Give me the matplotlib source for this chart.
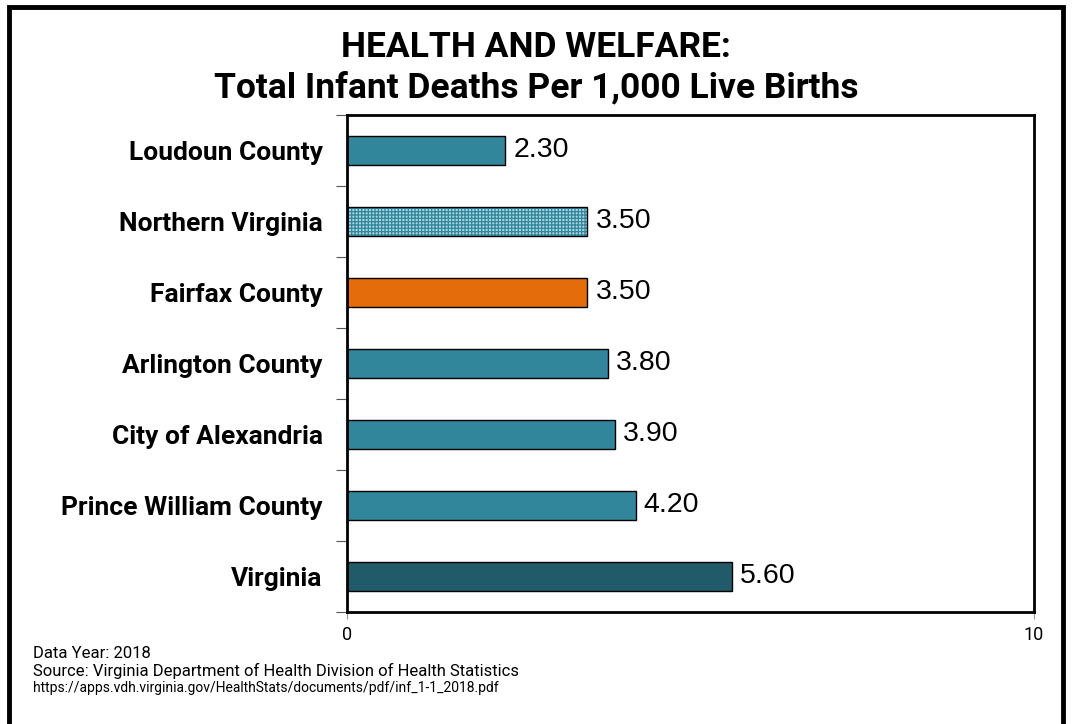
import matplotlib
matplotlib.use("Agg")
import matplotlib.pyplot as plt
from matplotlib.patches import Rectangle

categories = ["Loudoun County", "Northern Virginia", "Fairfax County", "Arlington County",
              "City of Alexandria", "Prince William County", "Virginia"]
values = [2.30, 3.50, 3.50, 3.80, 3.90, 4.20, 5.60]
colors = ["#31869B", "#A9D6E1", "#E46C0A", "#31869B", "#31869B", "#31869B", "#215A69"]
hatches = [None, "+++++", None, None, None, None, None]

plt.rcParams["hatch.linewidth"] = 0.9
fig = plt.figure(figsize=(10.72, 7.24), dpi=100)
# outer frame
fig.patches.append(Rectangle((0.0085, -0.05), 0.983, 1.04, transform=fig.transFigure,
                             fill=False, edgecolor="black", linewidth=3.5))

ax = fig.add_axes([0.3237, 0.1547, 0.6409, 0.6865])
ypos = list(range(len(categories)))
for y, v, c, h in zip(ypos, values, colors, hatches):
    if h:
        ax.barh(y, v, height=0.4, color=c, edgecolor="#31869B", hatch=h, linewidth=0)
        ax.barh(y, v, height=0.4, fill=False, edgecolor="black", linewidth=1)
    else:
        ax.barh(y, v, height=0.4, color=c, edgecolor="black", linewidth=1)
    ax.text(v + 0.12, y, f"{v:.2f}", va="center", ha="left", fontsize=20.5,
            family="Liberation Sans")

ax.set_xlim(0, 10)
ax.set_ylim(len(categories) - 0.5, -0.5)
ax.set_xticks([0, 10])
ax.set_xticklabels(["0", "10"], fontsize=13, family="Roboto")
ax.set_yticks(ypos)
ax.set_yticklabels(categories, fontsize=19, fontweight="bold", family="Roboto")
ax.tick_params(axis="y", length=0, pad=17.5)
ax.set_yticks([i + 0.5 for i in range(-1, len(categories))], minor=True)
ax.tick_params(axis="y", which="minor", length=8, width=0.8, color="#555555")
ax.tick_params(axis="x", length=5, color="#999999", pad=5)
for s in ax.spines.values():
    s.set_linewidth(2)

fig.text(0.5, 0.935, "HEALTH AND WELFARE:", ha="center", va="center", fontsize=25.5,
         fontweight="bold", family="Roboto")
fig.text(0.5, 0.879, "Total Infant Deaths Per 1,000 Live Births", ha="center", va="center",
         fontsize=25.5, fontweight="bold", family="Roboto")

fig.text(0.031, 0.097, "Data Year: 2018", fontsize=12, va="center", family="Roboto")
fig.text(0.031, 0.073, "Source: Virginia Department of Health Division of Health Statistics",
         fontsize=12, va="center", family="Roboto")
fig.text(0.031, 0.050, "https://apps.vdh.virginia.gov/HealthStats/documents/pdf/inf_1-1_2018.pdf",
         fontsize=10, va="center", family="Roboto")

fig.savefig("out.png", dpi=100)
